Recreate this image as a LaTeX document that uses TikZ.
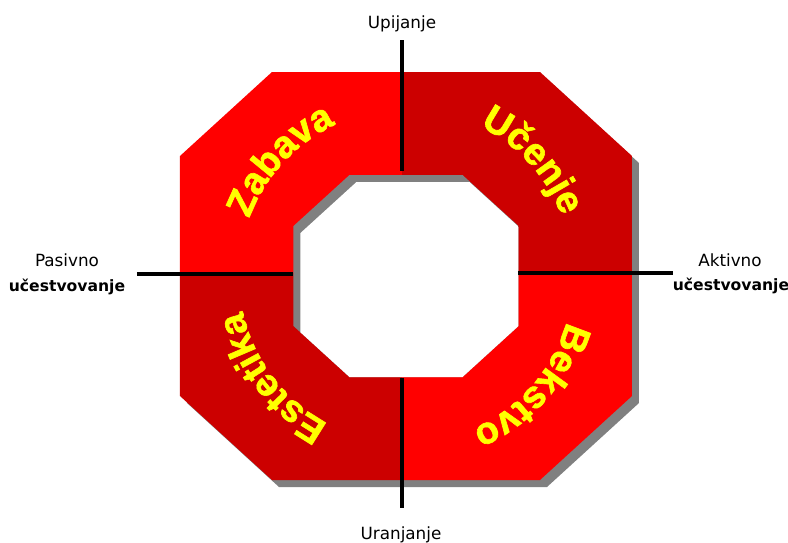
\documentclass[tikz,border=0pt]{standalone}
\usepackage{fontspec}
\setmainfont{DejaVu Sans}
\newfontfamily\ringfam[BoldFeatures={FakeBold=1.6}]{Liberation Sans}
\usetikzlibrary{decorations.text}
\definecolor{brightred}{HTML}{FF0000}
\definecolor{darkred}{HTML}{CC0000}
\definecolor{ringyellow}{HTML}{FFFF00}
\definecolor{shadowgray}{HTML}{808080}
\newcommand\ringfont{\ringfam\bfseries\fontsize{38}{38}\selectfont\color{ringyellow}}
\tikzset{
  axisline/.style={line width=4pt, black},
  smalllabel/.style={anchor=base, inner sep=0pt, font=\fontsize{16.8}{16.8}\selectfont},
  boldlabel/.style={anchor=base, inner sep=0pt, font=\fontsize{15.6}{15.6}\selectfont\bfseries},
}
\begin{document}
\begin{tikzpicture}[x=1pt,y=1pt]
\useasboundingbox (-406,-266) rectangle (382,276);
% shadow of ring (outer part)
\fill[shadowgray, shift={(7,-7)}] (-134,204) -- (134,204) -- (226,120) -- (226,-120) -- (134,-204) -- (-134,-204) -- (-226,-120) -- (-226,120) -- cycle;
% quadrants
\begin{scope}
  \clip (-134,204) -- (134,204) -- (226,120) -- (226,-120) -- (134,-204) -- (-134,-204) -- (-226,-120) -- (-226,120) -- cycle;
  \fill[brightred] (-240,3) rectangle (-4,220);
  \fill[darkred] (-4,3) rectangle (240,220);
  \fill[darkred] (-240,3) rectangle (-4,-220);
  \fill[brightred] (-4,3) rectangle (240,-220);
\end{scope}
% hole with the ring shadow inside it
\begin{scope}
  \clip (-56.5,101) -- (56.5,101) -- (112.5,50) -- (112.5,-50) -- (56.5,-101) -- (-56.5,-101) -- (-112.5,-50) -- (-112.5,50) -- cycle;
  \fill[shadowgray] (-120,110) rectangle (120,-110);
  \fill[white, shift={(7,-7)}] (-56.5,101) -- (56.5,101) -- (112.5,50) -- (112.5,-50) -- (56.5,-101) -- (-56.5,-101) -- (-112.5,-50) -- (-112.5,50) -- cycle;
\end{scope}
% curved labels
\path[decorate, decoration={text along path, text align=center, text={|\ringfont|Zabava}}]
  (187.4:167) arc[start angle=187.4, end angle=87.4, radius=167];
\path[decorate, decoration={text along path, text align=center, text={|\ringfont|Učenje}}]
  (92.4:167) arc[start angle=92.4, end angle=-7.6, radius=167];
\path[decorate, decoration={text along path, text align=center, text={|\ringfont|Bekstvo}}]
  (8.8:167) arc[start angle=8.8, end angle=-91.2, radius=167];
\path[decorate, decoration={text along path, text align=center, text={|\ringfont|Estetika}}]
  (267.2:167) arc[start angle=267.2, end angle=167.2, radius=167];
% axes
\coordinate (vt1) at (-4,236);
\coordinate (vt2) at (-4,105);
\coordinate (vb1) at (-4,-101.5);
\coordinate (vb2) at (-4,-232);
\coordinate (hl1) at (-269,2);
\coordinate (hl2) at (-113,2);
\coordinate (hr1) at (112,3);
\coordinate (hr2) at (267,3);
\draw[axisline] (vt1) -- (vt2);
\draw[axisline] (vb1) -- (vb2);
\draw[axisline] (hl1) -- (hl2);
\draw[axisline] (hr1) -- (hr2);
% labels
\node[smalllabel] (up) at (-4,248) {Upijanje};
\node[smalllabel] (ur) at (-5,-263.3) {Uranjanje};
\node[smalllabel] (pas) at (-339,9.3) {Pasivno};
\node[boldlabel] (ucl) at (-339,-15.7) {učestvovanje};
\node[smalllabel] (akt) at (324,9.3) {Aktivno};
\node[boldlabel] (ucr) at (325,-14.5) {učestvovanje};
\end{tikzpicture}
\end{document}
